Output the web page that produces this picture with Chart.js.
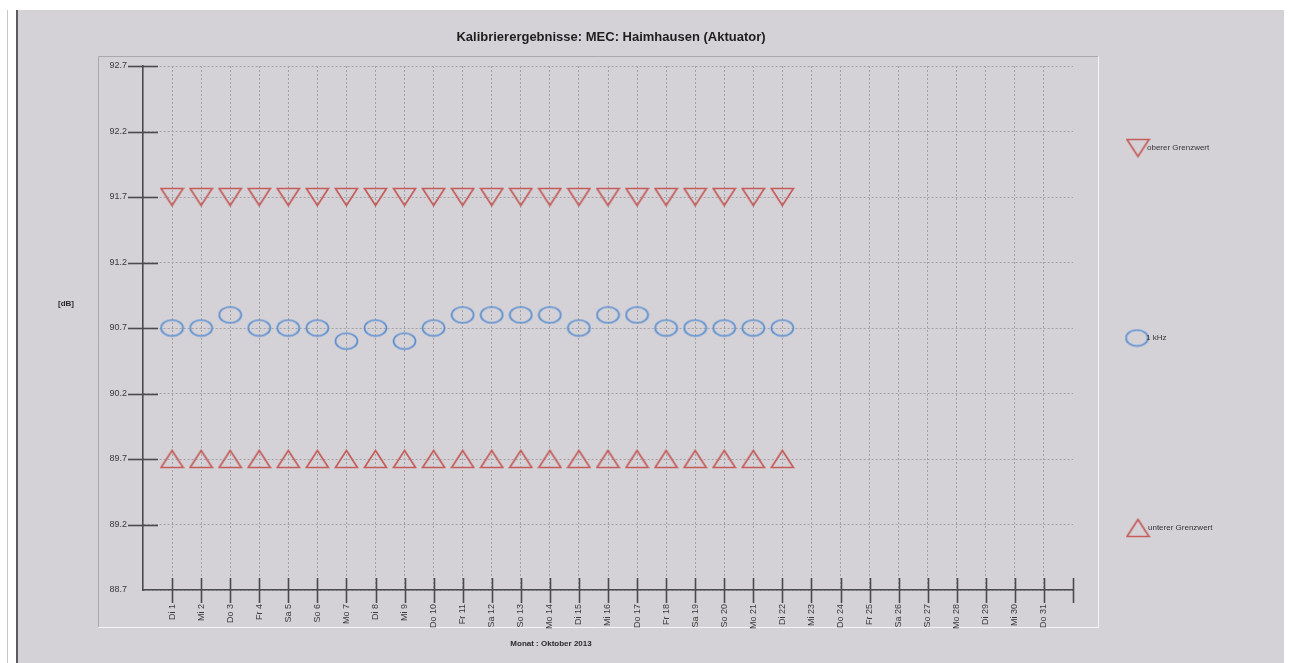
<!DOCTYPE html>
<html>
<head>
<meta charset="utf-8">
<script src="https://cdn.jsdelivr.net/npm/chart.js@4.4.1/dist/chart.umd.min.js"></script>
<style>
  html, body { margin: 0; padding: 0; background: #ffffff; }
  #wrap { width: 1289px; height: 663px; position: relative; }
  canvas { display: block; }
</style>
</head>
<body>
<div id="wrap"><canvas id="c" width="1289" height="663"></canvas></div>
<script>
// ---- data ----
const titleText = 'Kalibrierergebnisse: MEC: Haimhausen (Aktuator)';
const xTitle = 'Monat : Oktober 2013';
const yTitle = '[dB]';
const dayLabels = ['Di 1','Mi 2','Do 3','Fr 4','Sa 5','So 6','Mo 7','Di 8','Mi 9','Do 10',
  'Fr 11','Sa 12','So 13','Mo 14','Di 15','Mi 16','Do 17','Fr 18','Sa 19','So 20',
  'Mo 21','Di 22','Mi 23','Do 24','Fr 25','Sa 26','So 27','Mo 28','Di 29','Mi 30','Do 31'];
const yTicks = [88.7, 89.2, 89.7, 90.2, 90.7, 91.2, 91.7, 92.2, 92.7];
const seriesNames = ['oberer Grenzwert', '1 kHz', 'unterer Grenzwert'];
const upperLimit = [91.7,91.7,91.7,91.7,91.7,91.7,91.7,91.7,91.7,91.7,91.7,
                    91.7,91.7,91.7,91.7,91.7,91.7,91.7,91.7,91.7,91.7,91.7];
const kHz1 =       [90.7,90.7,90.8,90.7,90.7,90.7,90.6,90.7,90.6,90.7,90.8,
                    90.8,90.8,90.8,90.7,90.8,90.8,90.7,90.7,90.7,90.7,90.7];
const lowerLimit = [89.7,89.7,89.7,89.7,89.7,89.7,89.7,89.7,89.7,89.7,89.7,
                    89.7,89.7,89.7,89.7,89.7,89.7,89.7,89.7,89.7,89.7,89.7];

// ---- styles ----
const RED = '#c45c5a';
const BLUE = '#5a8ed0';
const BG = '#d4d2d7';
const AXIS = '#4a4a4c';
const GRID = '#a3a1a6';
const FONT = '"Liberation Sans", Arial, sans-serif';

function makeMarker(kind, color) {
  const c = document.createElement('canvas');
  const w = kind === 'ellipse' ? 25 : 25;
  const h = kind === 'ellipse' ? 19 : 20;
  c.width = w; c.height = h;
  const g = c.getContext('2d');
  g.strokeStyle = color;
  g.lineWidth = 1.7;
  g.beginPath();
  if (kind === 'down') {
    g.moveTo(1.5, 1.5); g.lineTo(w - 1.5, 1.5); g.lineTo(w / 2, h - 1.5); g.closePath();
  } else if (kind === 'up') {
    g.moveTo(w / 2, 1.5); g.lineTo(w - 1.5, h - 1.5); g.lineTo(1.5, h - 1.5); g.closePath();
  } else {
    g.ellipse(w / 2, h / 2, w / 2 - 1.5, h / 2 - 1.5, 0, 0, Math.PI * 2);
  }
  g.stroke();
  return c;
}
const mDown = makeMarker('down', RED);
const mCircle = makeMarker('ellipse', BLUE);
const mUp = makeMarker('up', RED);

const toPoints = arr => arr.map((v, i) => ({ x: i + 1, y: v }));

const decor = {
  id: 'decor',
  beforeDraw(chart) {
    const ctx = chart.ctx;
    ctx.save();
    ctx.fillStyle = '#ffffff';
    ctx.fillRect(0, 0, 1289, 663);
    ctx.fillStyle = BG;
    ctx.fillRect(18, 10, 1266, 653);
    ctx.fillStyle = '#5a5a5c';
    ctx.fillRect(16, 10, 2, 653);
    ctx.fillStyle = '#c8c8c8';
    ctx.fillRect(7, 10, 1, 653);
    // inner frame
    ctx.lineWidth = 1;
    ctx.strokeStyle = '#a9a8ac';
    ctx.beginPath();
    ctx.moveTo(98.5, 627); ctx.lineTo(98.5, 56.5); ctx.lineTo(1098, 56.5);
    ctx.stroke();
    ctx.strokeStyle = '#f4f4f6';
    ctx.beginPath();
    ctx.moveTo(1098.5, 56.5); ctx.lineTo(1098.5, 627.5); ctx.lineTo(98.5, 627.5);
    ctx.stroke();
    ctx.restore();
  },
  afterDraw(chart) {
    const ctx = chart.ctx;
    const xs = chart.scales.x, ys = chart.scales.y;
    const ca = chart.chartArea;
    ctx.save();
    ctx.strokeStyle = AXIS;
    ctx.lineWidth = 1.6;
    // y tick marks crossing the axis
    yTicks.forEach((v, i) => {
      if (i === 0) return;
      const py = Math.round(ys.getPixelForValue(v)) + 0.5;
      ctx.beginPath();
      ctx.moveTo(ca.left - 15, py); ctx.lineTo(ca.left + 15, py);
      ctx.stroke();
    });
    // x tick marks crossing the axis
    for (let i = 1; i <= dayLabels.length + 1; i++) {
      const px = Math.round(xs.getPixelForValue(i)) + 0.5;
      ctx.beginPath();
      ctx.moveTo(px, ca.bottom - 12); ctx.lineTo(px, ca.bottom + 13);
      ctx.stroke();
    }
    // title
    ctx.fillStyle = '#1e1e1e';
    ctx.font = 'bold 13px ' + FONT;
    ctx.textAlign = 'center';
    ctx.textBaseline = 'middle';
    ctx.fillText(titleText, 611, 37);
    // axis titles
    ctx.font = 'bold 8px ' + FONT;
    ctx.fillStyle = '#2a2a2a';
    ctx.fillText(xTitle, 551, 644);
    ctx.fillText(yTitle, 66, 304);
    // legend
    const leg = [
      { m: mDown, cx: 1138, cy: 148, tx: 1147 },
      { m: mCircle, cx: 1137, cy: 338, tx: 1146 },
      { m: mUp, cx: 1138, cy: 528, tx: 1148 }
    ];
    ctx.font = '8px ' + FONT;
    ctx.fillStyle = '#333333';
    ctx.textAlign = 'left';
    leg.forEach((l, i) => {
      ctx.drawImage(l.m, l.cx - l.m.width / 2, l.cy - l.m.height / 2);
      ctx.fillText(seriesNames[i], l.tx, l.cy);
    });
    ctx.restore();
  }
};

new Chart(document.getElementById('c'), {
  type: 'scatter',
  data: {
    datasets: [
      { label: seriesNames[0], data: toPoints(upperLimit), pointStyle: mDown, pointRadius: 10, showLine: false },
      { label: seriesNames[1], data: toPoints(kHz1), pointStyle: mCircle, pointRadius: 10, showLine: false },
      { label: seriesNames[2], data: toPoints(lowerLimit), pointStyle: mUp, pointRadius: 10, showLine: false }
    ]
  },
  options: {
    responsive: false,
    animation: false,
    devicePixelRatio: 1,
    layout: { padding: { top: 66, right: 216, left: 0, bottom: 0 } },
    plugins: { legend: { display: false }, title: { display: false }, tooltip: { enabled: false } },
    scales: {
      x: {
        type: 'linear', position: 'bottom', min: 0, max: dayLabels.length + 1,
        afterBuildTicks: s => { s.ticks = dayLabels.map((l, i) => ({ value: i + 1 })).concat([{ value: dayLabels.length + 1 }]); },
        afterFit: s => { s.height = 73; },
        ticks: {
          autoSkip: false, maxRotation: 90, minRotation: 90, padding: 1,
          color: '#3a3a3a', font: { family: FONT, size: 9 },
          callback: v => dayLabels[v - 1] || ''
        },
        grid: {
          color: ctx => (ctx.tick && ctx.tick.value > dayLabels.length) ? 'rgba(0,0,0,0)' : GRID,
          lineWidth: 1, tickLength: 13, tickColor: 'rgba(0,0,0,0)'
        },
        border: { display: true, color: AXIS, width: 1.6, dash: [2, 2] }
      },
      y: {
        type: 'linear', min: yTicks[0], max: yTicks[yTicks.length - 1],
        afterBuildTicks: s => { s.ticks = yTicks.map(v => ({ value: v })); },
        afterFit: s => { s.width = 143; },
        ticks: {
          padding: 1, color: '#3a3a3a', font: { family: FONT, size: 9 },
          callback: v => Number(v).toFixed(1)
        },
        grid: { color: GRID, lineWidth: 1, tickLength: 15, tickColor: 'rgba(0,0,0,0)' },
        border: { display: true, color: AXIS, width: 1.6, dash: [2, 2] }
      }
    }
  },
  plugins: [decor]
});
</script>
</body>
</html>
